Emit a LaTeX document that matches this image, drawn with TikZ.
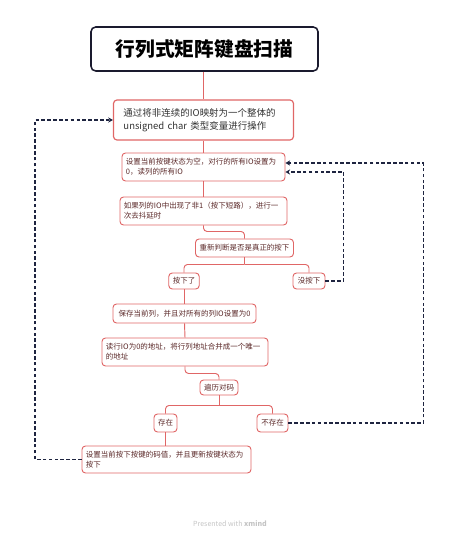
\documentclass[tikz,border=0pt]{standalone}
\usepackage{fontspec}
\setmainfont{Noto Sans CJK SC}
\usetikzlibrary{arrows.meta,calc}
\definecolor{hongBian}{HTML}{E06666}
\definecolor{hongZi}{HTML}{5C2A2A}
\definecolor{shenLan}{HTML}{1E2440}
\definecolor{qianHui}{HTML}{C4C4C4}
\definecolor{zhuHei}{HTML}{1A1A2E}

\tikzset{
  kuang/.style={draw=hongBian,line width=0.8pt,rounded corners=3pt,fill=white,text=hongZi,
    font=\fontsize{6.4}{8.5}\selectfont,inner ysep=0pt,inner xsep=0.12cm,align=left},
  lian/.style={draw=hongBian,line width=0.8pt,rounded corners=3pt},
  fanhui/.style={draw=shenLan,line width=1.2pt,dash pattern=on 3pt off 2pt,-{Stealth[length=4pt,width=4.5pt]}}
}

\begin{document}
\begin{tikzpicture}[x=0.03cm,y=-0.03cm]
\useasboundingbox (0,0) rectangle (458,540);
% baslik
\node[draw=zhuHei,line width=1.3pt,rounded corners=4pt,minimum width=6.81cm,minimum height=1.32cm,
  font=\fontsize{16.8}{20}\selectfont\bfseries,text=black] (title) at (204.5,49) {行列式矩阵键盘扫描};
% ana kutular
\node[kuang,line width=1pt,text=black!80,font=\fontsize{8.1}{11}\selectfont,inner xsep=0.3cm,
  text width=4.8cm,minimum height=1.2cm] (box2) at (203.5,120)
  {通过将非连续的IO映射为一个整体的\\unsigned char 类型变量进行操作};
\node[kuang,text width=4.65cm,minimum height=0.84cm] (box3) at (203.5,167)
  {设置当前按键状态为空，对行的所有IO设置为\\0，读列的所有IO};
\node[kuang,text width=4.77cm,minimum height=0.84cm] (box4) at (203.5,211)
  {如果列的IO中出现了非1（按下短路），进行一\\次去抖延时};
\node[kuang,align=center,minimum width=2.85cm,minimum height=0.54cm] (box5) at (244.5,248) {重新判断是否是真正的按下};
\node[kuang,align=center,minimum width=0.9cm,minimum height=0.48cm] (box6) at (184,281) {按下了};
\node[kuang,align=center,minimum width=0.96cm,minimum height=0.48cm] (box7) at (309,281) {没按下};
\node[kuang,align=center,minimum width=4.29cm,minimum height=0.57cm] (box8) at (184.5,313.5) {保存当前列，并且对所有的列IO设置为0};
\node[kuang,text width=4.74cm,minimum height=0.84cm] (box9) at (185,352)
  {读行IO为0的地址，将行列地址合并成一个唯一\\的地址};
\node[kuang,align=center,minimum width=1.14cm,minimum height=0.45cm] (box10) at (219,387.5) {遍历对码};
\node[kuang,align=center,minimum width=0.69cm,minimum height=0.54cm] (box11) at (165.5,423) {存在};
\node[kuang,align=center,minimum width=0.93cm,minimum height=0.54cm] (box12) at (272.5,423) {不存在};
\node[kuang,text width=4.83cm,minimum height=0.81cm] (box13) at (166.5,459.5)
  {设置当前按下按键的码值，并且更新按键状态为\\按下};
% baglantilar
\draw[lian] (box2.north |- title.south) -- (box2.north);
\draw[lian] (box2.south) -- (box3.north);
\draw[lian] (box3.south) -- (box4.north);
\draw[lian] (box4.south) -- ++(0,6) -| (box5.north);
\draw[lian] (box5.south) -- ++(0,7) coordinate (fenA);
\draw[lian] (fenA) -| (box6.north);
\draw[lian] (fenA) -| (box7.north);
\draw[lian] (box6.south) -- (box6.south |- box8.north);
\draw[lian] (box8.south) -- (box9.north);
\draw[lian] (box9.south) -- ++(0,7) -| (box10.north);
\draw[lian] (box10.south) -- ++(0,10) coordinate (fenB);
\draw[lian] (fenB) -| (box11.north);
\draw[lian] (fenB) -| (box12.north);
\draw[lian] (box11.south) -- (box11.south |- box13.north);
% geri donusler
\coordinate (zuo) at (35,0);
\draw[fanhui] (box13.west) -| (zuo |- box2.west) -- (box2.west);
\draw[fanhui] (box7.east) -- ++(18,0) |- ($(box3.east)+(0,5)$);
\draw[fanhui] (box12.east) -- ++(135,0) |- ($(box3.east)+(0,-4)$);
\node[text=qianHui,font=\fontsize{6}{7}\selectfont] (shuiyin) at (230,524) {Presented with \textbf{xmind}};
\end{tikzpicture}
\end{document}
